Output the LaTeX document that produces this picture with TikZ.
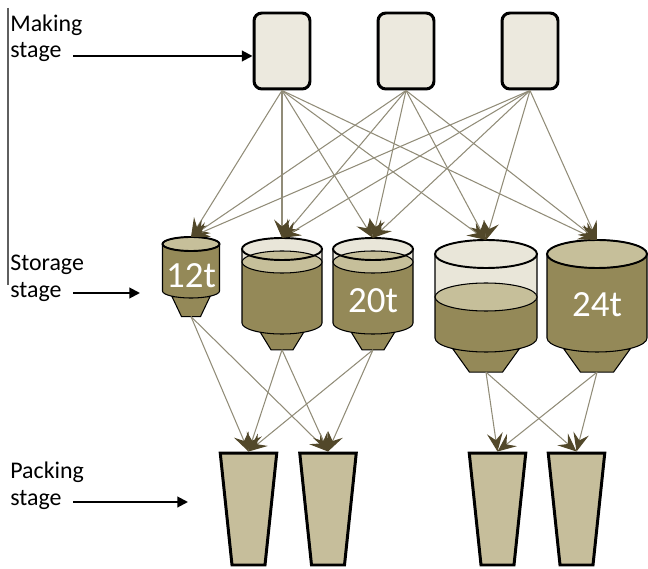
\documentclass[tikz,border=0pt]{standalone}
\usepackage{fontspec}
\setmainfont{Carlito}
\usetikzlibrary{arrows.meta, positioning, shapes.geometric}
\definecolor{makeFill}{RGB}{236, 233, 222}
\definecolor{siloOlive}{RGB}{148, 137, 88}
\definecolor{siloEmpty}{RGB}{233, 230, 217}
\definecolor{siloSurface}{RGB}{198, 191, 154}
\definecolor{packFill}{RGB}{198, 190, 155}
\definecolor{flowGray}{RGB}{145, 140, 120}
\definecolor{tipDark}{RGB}{82, 72, 42}
\definecolor{sideGray}{RGB}{95, 95, 95}

% silo: nombre, x, y arriba, radio x, radio y, y abajo, nivel de llenado, media anchura del cono, altura del cono
\newcommand{\silo}[9]{%
    % cono debajo del cuerpo
    \draw[silo line, fill=siloOlive] ({#2-#8},{#6-0.8*#5}) -- ({#2+#8},{#6-0.8*#5})
        -- ({#2+0.5*#8},{#6-0.8*#5-#9}) -- ({#2-0.5*#8},{#6-0.8*#5-#9}) -- cycle;
    % parte vacía sobre el nivel
    \fill[siloEmpty] ({#2-#4},#7) rectangle ({#2+#4},#3);
    \fill[siloEmpty] (#2,#3) ellipse [x radius=#4, y radius=#5];
    % parte llena
    \fill[siloOlive] ({#2-#4},#7) -- ({#2-#4},#6)
        arc [start angle=180, end angle=360, x radius=#4, y radius=#5] -- ({#2+#4},#7) -- cycle;
    \draw[silo line] ({#2-#4},#3) -- ({#2-#4},#6)
        arc [start angle=180, end angle=360, x radius=#4, y radius=#5] -- ({#2+#4},#3);
    \draw[silo line, fill=siloSurface] (#2,#7) ellipse [x radius=#4, y radius=#5];
    \draw[silo line, line width=1.1pt] (#2,#3) ellipse [x radius=#4, y radius=#5];
    \coordinate (#1_in) at (#2,{#3+#5});
    \coordinate (#1_out) at (#2,{#6-0.8*#5-#9});
}

\begin{document}
\begin{tikzpicture}[
    x=0.02cm, y=0.02cm,
    font=\fontsize{13.6}{15.3}\selectfont,
    % Estilo para los depósitos de fabricación
    make box/.style={
        draw, line width=1.7pt,
        rounded corners=4.5pt,
        fill=makeFill,
        minimum width=1.12cm,
        minimum height=1.52cm
    },
    % Estilo para los envases
    pack/.style={
        trapezium, shape border rotate=180,
        trapezium left angle=84, trapezium right angle=84,
        draw, line width=1.7pt, fill=packFill,
        inner xsep=0.33cm, inner ysep=1.12cm
    },
    silo line/.style={draw=black, line width=0.6pt},
    silo text/.style={text=white, font=\fontsize{21}{21}\selectfont},
    stage label/.style={align=left, anchor=base west, inner sep=0pt},
    stage arrow/.style={-{Triangle[length=6pt, width=6pt]}, line width=1.1pt},
    % Estilo para flechas de flujo
    flow/.style={
        -{Stealth[length=10.5pt, width=9pt, inset=4pt, color=tipDark]},
        draw=flowGray, line width=0.6pt
    }
]
    \useasboundingbox (0,0) rectangle (648,568);

    % --- 1. Etapas (Izquierda) ---
    \draw[sideGray, line width=0.8pt] (8,560) -- (8,283);

    \node[stage label] (lbl_make) at (10,510) {Making\\stage};
    \node[stage label] (lbl_store) at (10,271) {Storage\\stage};
    \node[stage label] (lbl_pack) at (10,63) {Packing\\stage};

    % --- 2. Fabricación ---
    \node[make box] (make1) at (282,517) {};
    \node[make box] (make2) at (406,517) {};
    \node[make box] (make3) at (530,517) {};

    % --- 3. Silos ---
    \silo{silo1}{191}{324}{28.5}{7}{277}{324}{19}{20}
    \silo{silo2}{282}{319}{40}{11}{245}{306}{22}{18}
    \silo{silo3}{373}{319}{40}{11}{245}{306}{22}{18}
    \silo{silo4}{486}{314}{51}{14}{230}{271}{33}{23}
    \silo{silo5}{597}{314}{50}{14}{230}{314}{33}{23}

    \node[silo text] (cap12) at (191,292) {12t};
    \node[silo text] (cap20) at (373,267) {20t};
    \node[silo text] (cap24) at (597,263) {24t};

    % --- 4. Envasado ---
    \node[pack] (pack1) at (248.5,59) {};
    \node[pack] (pack2) at (328,59) {};
    \node[pack] (pack3) at (497.5,59) {};
    \node[pack] (pack4) at (576.5,59) {};

    % --- 5. Flechas de las etapas ---
    \coordinate (make_from) at (73,512);
    \coordinate (store_from) at (73,275);
    \coordinate (store_to) at (140,275);
    \coordinate (pack_from) at (73,66);
    \coordinate (pack_to) at (188,66);
    \draw[stage arrow] (make_from) -- (make_from -| make1.west);
    \draw[stage arrow] (store_from) -- (store_to);
    \draw[stage arrow] (pack_from) -- (pack_to);

    % --- 6. Fabricación -> Silos ---
    \draw[flow] (make1.south) -- (silo1_in);
    \draw[flow] (make1.south) -- (silo2_in);
    \draw[flow] (make1.south) -- (silo3_in);
    \draw[flow] (make1.south) -- (silo4_in);
    \draw[flow] (make1.south) -- (silo5_in);
    \draw[flow] (make2.south) -- (silo1_in);
    \draw[flow] (make2.south) -- (silo2_in);
    \draw[flow] (make2.south) -- (silo3_in);
    \draw[flow] (make2.south) -- (silo4_in);
    \draw[flow] (make2.south) -- (silo5_in);
    \draw[flow] (make3.south) -- (silo1_in);
    \draw[flow] (make3.south) -- (silo2_in);
    \draw[flow] (make3.south) -- (silo3_in);
    \draw[flow] (make3.south) -- (silo4_in);
    \draw[flow] (make3.south) -- (silo5_in);

    % --- 7. Silos -> Envasado ---
    \draw[flow] (silo1_out) -- (pack1.north);
    \draw[flow] (silo1_out) -- (pack2.north);
    \draw[flow] (silo2_out) -- (pack1.north);
    \draw[flow] (silo2_out) -- (pack2.north);
    \draw[flow] (silo3_out) -- (pack1.north);
    \draw[flow] (silo3_out) -- (pack2.north);
    \draw[flow] (silo4_out) -- (pack3.north);
    \draw[flow] (silo4_out) -- (pack4.north);
    \draw[flow] (silo5_out) -- (pack3.north);
    \draw[flow] (silo5_out) -- (pack4.north);

\end{tikzpicture}
\end{document}
